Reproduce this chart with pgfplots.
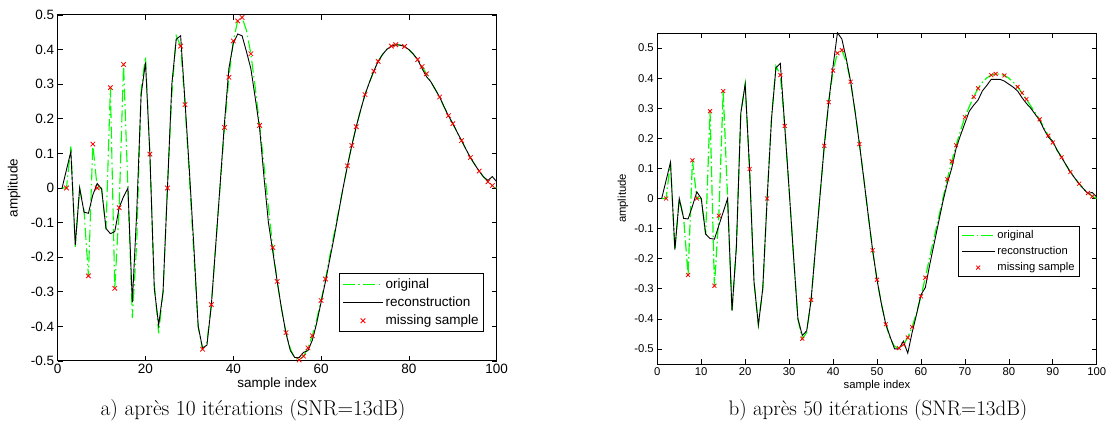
\documentclass[border=0pt]{standalone}
\usepackage{fontspec}
\setsansfont{Liberation Sans}
\usepackage{pgfplots}
\pgfplotsset{compat=1.18}
\usepackage{pgfplotstable}

\pgfplotstableread{
i g r10 r50
1 0 0 0
2 0 0.053 0.06
3 0.12 0.105 0.12
4 -0.17 -0.165 -0.17
5 0 0 0
6 -0.066 -0.07 -0.066
7 -0.254 -0.073 -0.068
8 0.127 -0.02 -0.025
9 0 0.013 0.022
10 0 -0.003 0
11 -0.12 -0.117 -0.118
12 0.29 -0.132 -0.133
13 -0.29 -0.126 -0.135
14 -0.057 -0.057 -0.09
15 0.357 -0.025 -0.045
16 0 0 0
17 -0.375 -0.33 -0.373
18 -0.16 -0.07 -0.16
19 0.283 0.269 0.283
20 0.38 0.363 0.38
21 0.098 0.097 0.098
22 -0.275 -0.29 -0.275
23 -0.42 -0.396 -0.42
24 -0.30 -0.30 -0.30
25 0 0 0
26 0.27 0.30 0.266
27 0.44 0.43 0.434
28 0.41 0.44 0.449
29 0.241 0.25 0.241
30 0.03 0.05 0.03
31 -0.19 -0.165 -0.19
32 -0.40 -0.40 -0.40
33 -0.466 -0.463 -0.455
34 -0.445 -0.454 -0.44
35 -0.337 -0.338 -0.337
36 -0.165 -0.165 -0.165
37 0.005 0.01 0.005
38 0.175 0.19 0.175
39 0.32 0.346 0.32
40 0.425 0.418 0.44
41 0.483 0.445 0.551
42 0.493 0.44 0.53
43 0.455 0.394 0.465
44 0.388 0.345 0.388
45 0.29 0.26 0.29
46 0.181 0.172 0.181
47 0.065 0.03 0.065
48 -0.055 -0.10 -0.055
49 -0.172 -0.184 -0.172
50 -0.27 -0.27 -0.27
51 -0.35 -0.35 -0.35
52 -0.418 -0.42 -0.418
53 -0.465 -0.47 -0.46
54 -0.492 -0.49 -0.5
55 -0.497 -0.49 -0.5
56 -0.486 -0.475 -0.474
57 -0.462 -0.47 -0.514
58 -0.427 -0.44 -0.445
59 -0.38 -0.39 -0.385
60 -0.325 -0.33 -0.32
61 -0.263 -0.27 -0.296
62 -0.195 -0.205 -0.22
63 -0.13 -0.14 -0.15
64 -0.065 -0.07 -0.08
65 0.0 0.0 -0.01
66 0.064 0.064 0.051
67 0.123 0.123 0.10
68 0.177 0.177 0.167
69 0.225 0.225 0.21
70 0.27 0.27 0.25
71 0.305 0.305 0.29
72 0.338 0.338 0.31
73 0.366 0.366 0.327
74 0.386 0.386 0.358
75 0.401 0.401 0.376
76 0.41 0.41 0.396
77 0.414 0.414 0.396
78 0.413 0.413 0.396
79 0.409 0.409 0.39
80 0.40 0.40 0.38
81 0.387 0.387 0.37
82 0.371 0.371 0.357
83 0.351 0.345 0.335
84 0.33 0.322 0.316
85 0.307 0.307 0.30
86 0.285 0.285 0.28
87 0.263 0.263 0.26
88 0.235 0.235 0.23
89 0.209 0.209 0.204
90 0.186 0.186 0.19
91 0.161 0.161 0.16
92 0.137 0.137 0.137
93 0.112 0.112 0.112
94 0.088 0.088 0.088
95 0.068 0.068 0.068
96 0.049 0.049 0.049
97 0.032 0.032 0.032
98 0.018 0.022 0.017
99 0.007 0.033 0.02
100 0.0 0.018 0.005
}\sig

\pgfplotstableread{
i v
2 0
7 -0.254
8 0.127
9 0
12 0.29
13 -0.29
14 -0.057
15 0.357
21 0.098
25 0
28 0.41
29 0.241
33 -0.466
35 -0.337
38 0.175
39 0.32
40 0.425
41 0.483
42 0.493
44 0.388
46 0.181
49 -0.172
50 -0.27
52 -0.418
55 -0.497
56 -0.486
57 -0.462
58 -0.427
60 -0.325
61 -0.263
66 0.064
67 0.123
68 0.177
70 0.27
72 0.338
73 0.366
76 0.41
77 0.414
79 0.409
82 0.371
83 0.351
84 0.33
87 0.263
89 0.209
90 0.186
92 0.137
94 0.088
96 0.049
98 0.018
99 0.007
}\miss

\definecolor{mgreen}{rgb}{0,1,0}

\pgfplotsset{
  mat/.style={
    scale only axis, anchor=south west,
    xmin=0, xmax=100,
    axis line style={line width=0.8pt},
    tick align=inside, major tick length=5pt,
    tick style={black, line width=0.6pt},
    ytick={-0.5,-0.4,-0.3,-0.2,-0.1,0,0.1,0.2,0.3,0.4,0.5},
    yticklabel style={/pgf/number format/.cd, fixed, precision=1, assume math mode=true},
    xticklabel style={/pgf/number format/assume math mode=true},
    legend cell align=left,
  },
  legA/.style={legend image code/.code={\draw[mark repeat=2,mark phase=2] plot coordinates {(0pt,0pt) (20pt,0pt) (40pt,0pt)};}},
  legB/.style={legend image code/.code={\draw[mark repeat=2,mark phase=2] plot coordinates {(0pt,0pt) (16.5pt,0pt) (33pt,0pt)};}},
}

\begin{document}
\begin{tikzpicture}
\useasboundingbox (0pt,0pt) rectangle (1112pt,435pt);
\begin{axis}[mat, legA, at={(57.7pt,74pt)}, width=439pt, height=346pt,
  ymin=-0.5, ymax=0.5, xtick={0,20,...,100},
  axis line style={line width=1pt},
  tick label style={font=\fontsize{13.5}{15}\selectfont\sffamily},
  label style={font=\fontsize{13.5}{15}\selectfont\sffamily},
  xlabel={sample index}, ylabel={amplitude},
  xlabel style={at={(axis description cs:0.5,-0.066)}, anchor=center},
  ylabel style={at={(axis description cs:-0.0995,0.5)}, anchor=center},
  legend style={font=\fontsize{13.5}{15}\selectfont\sffamily, at={(0.971,0.083)}, anchor=south east, draw=black, line width=0.8pt, inner xsep=3pt, inner ysep=3.5pt, row sep=3pt},
]
\addplot[mgreen, line width=1.1pt, dash pattern=on 12pt off 3.5pt on 1.5pt off 3.5pt] table[x=i,y=g] {\sig};
\addlegendentry{original}
\addplot[black, line width=0.9pt] table[x=i,y=r10] {\sig};
\addlegendentry{reconstruction}
\addplot[red, only marks, mark=x, mark size=3.2pt, line width=0.8pt] table[x=i,y=v] {\miss};
\addlegendentry{missing sample}
\end{axis}

\begin{axis}[mat, legB, at={(657.3pt,71pt)}, width=439.4pt, height=331pt,
  ymin=-0.55, ymax=0.55, xtick={0,10,...,100},
  tick label style={font=\fontsize{11.3}{13}\selectfont\sffamily},
  label style={font=\fontsize{11.3}{13}\selectfont\sffamily},
  xlabel={sample index}, ylabel={amplitude},
  xlabel style={at={(axis description cs:0.5,-0.066)}, anchor=center},
  ylabel style={at={(axis description cs:-0.078,0.5)}, anchor=center},
  legend style={font=\fontsize{11.2}{13}\selectfont\sffamily, at={(0.962,0.262)}, anchor=south east, draw=black, line width=0.8pt, inner xsep=3pt, inner ysep=2.5pt, row sep=2.5pt},
]
\addplot[mgreen, line width=1.2pt, dash pattern=on 11pt off 3pt on 1.5pt off 3pt,
  legend image code/.code={\draw[mgreen, line width=1.4pt, dash pattern=on 12pt off 3pt on 1.6pt off 3pt] (0pt,0pt) -- (33pt,0pt);}] table[x=i,y=g] {\sig};
\addlegendentry{original}
\addplot[black, line width=0.9pt] table[x=i,y=r50] {\sig};
\addlegendentry{reconstruction}
\addplot[red, only marks, mark=x, mark size=2.8pt, line width=0.8pt] table[x=i,y=v] {\miss};
\addlegendentry{missing sample}
\end{axis}

\node[font=\fontsize{21.5}{25}\selectfont] at (253pt,25pt) {a)\ après 10 itérations (SNR=13dB)};
\node[font=\fontsize{21}{25}\selectfont] at (878pt,25pt) {b)\ après 50 itérations (SNR=13dB)};
\end{tikzpicture}
\end{document}
